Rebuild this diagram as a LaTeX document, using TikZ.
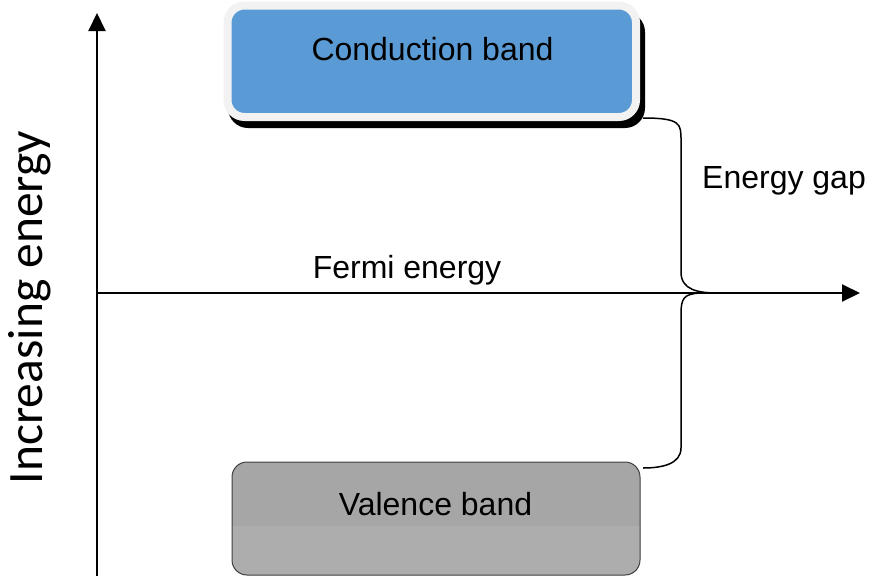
\documentclass[tikz,border=0pt]{standalone}
\usepackage{fontspec}
\setmainfont{Liberation Sans}
\newfontfamily\calfont{Carlito}
\usetikzlibrary{arrows.meta}
\definecolor{cbblue}{HTML}{5B9BD5}
\definecolor{cbrim}{HTML}{F2F2F2}
\definecolor{vbtop}{HTML}{A6A6A6}
\definecolor{vbbot}{HTML}{ADADAD}
\tikzset{
  axisline/.style={line width=2pt, -{Triangle[length=18pt,width=17pt]}},
  bandtext/.style={inner sep=0pt, anchor=base, font=\fontsize{32}{38}\selectfont},
  gapline/.style={line width=1.5pt},
}
\begin{document}
\begin{tikzpicture}[x=1pt,y=-1pt]
\useasboundingbox (0,0) rectangle (870,576);
% conduction band
\fill[black, rounded corners=20pt] (228,12) rectangle (645,128);
\node (cb) [fill=cbblue, draw=cbrim, line width=8pt, rounded corners=17pt,
  minimum width=408.5pt, minimum height=111.5pt, inner sep=0pt] at (431.75,61.25) {};
\node (cbt) [bandtext] at (432.5,60) {Conduction band};
% valence band
\node (vb) [fill=vbtop, draw=black!75, line width=1pt, rounded corners=15pt,
  minimum width=408pt, minimum height=113pt, inner sep=0pt,
  path picture={\fill[vbbot, sharp corners] ([yshift=-7.5pt, xshift=-5pt]path picture bounding box.west) rectangle ([xshift=5pt, yshift=-5pt]path picture bounding box.south east);}]
  at (436,518.5) {};
\node (vbt) [bandtext] at (435.5,515) {Valence band};
% axes
\coordinate (yo) at (97,576);
\coordinate (yt) at (97,13);
\coordinate (xo) at (97,293);
\coordinate (xt) at (860,293);
\draw[axisline] (yo) -- (yt);
\draw[axisline] (xo) -- (xt);
\node (fermi) [bandtext] at (407,278) {Fermi energy};
\node (ylab) [rotate=90, anchor=base, inner sep=0pt, font=\calfont\fontsize{49.5}{58}\selectfont] at (42,307.5) {Increasing energy};
% energy gap brace
\coordinate (ga) at (643,118);
\coordinate (gtip) at (718,293);
\coordinate (gtip2) at (700,293);
\coordinate (gb) at (643,468);
\draw[gapline] (ga) .. controls (681,118) and (681,124) .. (681,140) -- (681,272)
  .. controls (681,290) and (698,293) .. (gtip);
\draw[gapline] (gtip2) .. controls (684,294) and (681,298) .. (681,314) -- (681,448)
  .. controls (681,464) and (662,468) .. (gb);
\node (gap) [bandtext, anchor=base west] at (702,188) {Energy gap};
\end{tikzpicture}
\end{document}
